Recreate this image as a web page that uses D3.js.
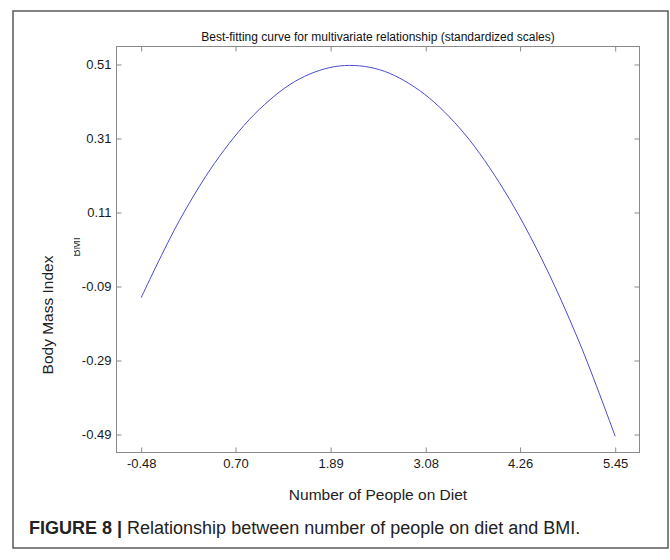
<!DOCTYPE html>
<html>
<head>
<meta charset="utf-8">
<script src="https://cdn.jsdelivr.net/npm/d3@7"></script>
<style>
  html, body { margin: 0; padding: 0; background: #fff; }
  svg { display: block; }
  text { font-family: "Liberation Sans", Arial, sans-serif; }
</style>
</head>
<body>
<svg id="chart" width="670" height="560"></svg>
<script>
// ---- data ----
const xTicks = [-0.48, 0.70, 1.89, 3.08, 4.26, 5.45];
const yTicks = [0.51, 0.31, 0.11, -0.09, -0.29, -0.49];
const curveX = [-0.48, 0.0, 0.5, 1.0, 1.5, 2.0, 2.5, 3.0, 3.5, 4.0, 4.5, 5.0, 5.45];
const curveY = [-0.120, 0.089, 0.262, 0.389, 0.471, 0.506, 0.496, 0.440, 0.339, 0.191, -0.002, -0.240, -0.495];
const xDomain = [-0.789, 5.754];
const yDomain = [-0.5386, 0.5586];

const titleText = "Best-fitting curve for multivariate relationship (standardized scales)";
const xLabel = "Number of People on Diet";
const yLabel = "Body Mass Index";
const yInnerLabel = "BMI";
const captionBold = "FIGURE 8 | ";
const captionRest = "Relationship between number of people on diet and BMI.";

// ---- layout ----
const svg = d3.select("#chart");
const plot = { left: 116.5, right: 639.5, top: 46.5, bottom: 452.5 };

const x = d3.scaleLinear().domain(xDomain).range([plot.left, plot.right]);
const y = d3.scaleLinear().domain(yDomain).range([plot.bottom, plot.top]);

// outer frame
svg.append("rect")
  .attr("x", 13).attr("y", 11).attr("width", 655).attr("height", 537)
  .attr("fill", "none").attr("stroke", "#5a5a5a").attr("stroke-width", 1.5);

// plot box
svg.append("rect")
  .attr("x", plot.left).attr("y", plot.top)
  .attr("width", plot.right - plot.left).attr("height", plot.bottom - plot.top)
  .attr("fill", "#fff").attr("stroke", "#8a8a8a").attr("stroke-width", 1);

const tickLen = 5;
const fmt = d => d.toFixed(2);

// bottom axis (ticks inward)
const xAxisB = d3.axisBottom(x).tickValues(xTicks).tickFormat(fmt).tickSizeInner(-tickLen).tickSizeOuter(0).tickPadding(6);
const gxb = svg.append("g").attr("transform", `translate(0,${plot.bottom})`).call(xAxisB);
// top axis ticks (no labels)
const xAxisT = d3.axisTop(x).tickValues(xTicks).tickFormat("").tickSizeInner(-tickLen).tickSizeOuter(0);
const gxt = svg.append("g").attr("transform", `translate(0,${plot.top})`).call(xAxisT);
// left axis
const yAxisL = d3.axisLeft(y).tickValues(yTicks).tickFormat(fmt).tickSizeInner(-tickLen).tickSizeOuter(0).tickPadding(5);
const gyl = svg.append("g").attr("transform", `translate(${plot.left},0)`).call(yAxisL);
// right axis ticks
const yAxisR = d3.axisRight(y).tickValues(yTicks).tickFormat("").tickSizeInner(-tickLen).tickSizeOuter(0);
const gyr = svg.append("g").attr("transform", `translate(${plot.right},0)`).call(yAxisR);

[gxb, gxt, gyl, gyr].forEach(g => {
  g.select(".domain").remove();
  g.selectAll(".tick line").attr("stroke", "#8a8a8a");
  g.selectAll(".tick text")
    .attr("fill", "#1a1a1a")
    .style("font-family", '"Liberation Sans", Arial, sans-serif')
    .style("font-size", "13px");
});

// curve
const pts = curveX.map((d, i) => [d, curveY[i]]);
const line = d3.line().x(d => x(d[0])).y(d => y(d[1])).curve(d3.curveCatmullRom.alpha(0.5));
svg.append("path")
  .datum(pts)
  .attr("d", line)
  .attr("fill", "none")
  .attr("stroke", "#4a4ad4")
  .attr("stroke-width", 1);

// title
svg.append("text")
  .attr("x", (plot.left + plot.right) / 2).attr("y", 41)
  .attr("text-anchor", "middle")
  .attr("fill", "#111")
  .style("font-size", "12px")
  .text(titleText);

// x label
svg.append("text")
  .attr("x", (plot.left + plot.right) / 2).attr("y", 500)
  .attr("text-anchor", "middle")
  .attr("fill", "#222")
  .style("font-size", "15.5px")
  .text(xLabel);

// y label
svg.append("text")
  .attr("transform", "translate(53,315) rotate(-90)")
  .attr("text-anchor", "middle")
  .attr("fill", "#222")
  .style("font-size", "15.5px")
  .text(yLabel);

// small inner BMI label (partially clipped as in reference)
svg.append("clipPath").attr("id", "bmiclip")
  .append("rect").attr("x", 74).attr("y", 225).attr("width", 20).attr("height", 45);
svg.append("g").attr("clip-path", "url(#bmiclip)")
  .append("text")
  .attr("transform", "translate(80,247) rotate(-90)")
  .attr("text-anchor", "middle")
  .attr("fill", "#333")
  .style("font-size", "11px")
  .text(yInnerLabel);

// caption
const cap = svg.append("text")
  .attr("x", 29).attr("y", 534)
  .attr("fill", "#222")
  .style("font-size", "18px");
cap.append("tspan").style("font-weight", "bold").text(captionBold);
cap.append("tspan").text(captionRest);
</script>
</body>
</html>
